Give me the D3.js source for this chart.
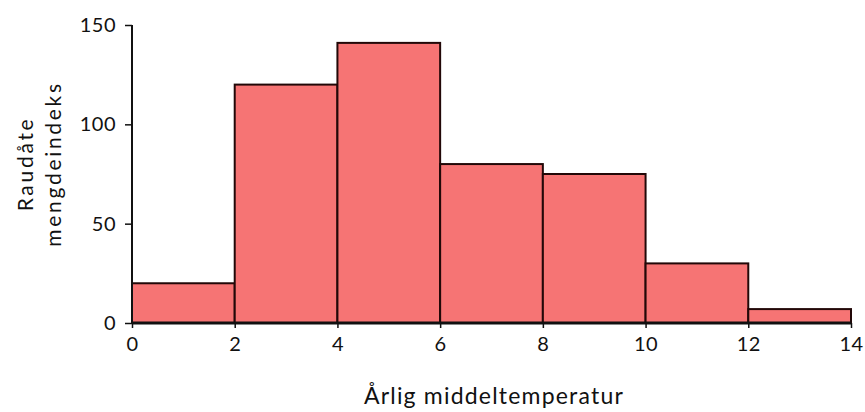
<!DOCTYPE html>
<html>
<head>
<meta charset="utf-8">
<script src="https://cdn.jsdelivr.net/npm/d3@7"></script>
<style>
  body { margin: 0; background: #fff; }
  text { font-family: Lato, "Open Sans", sans-serif; fill: #111; }
</style>
</head>
<body>
<svg id="chart" width="865" height="412"></svg>
<script>
const binStarts = [0, 2, 4, 6, 8, 10, 12];
const binWidth = 2;
const counts = [20, 120, 141, 80, 75, 30, 7];
const xTicks = [0, 2, 4, 6, 8, 10, 12, 14];
const yTicks = [0, 50, 100, 150];

const svg = d3.select('#chart');
const margin = { top: 25, right: 14, bottom: 89, left: 132 };
const width = +svg.attr('width') - margin.left - margin.right;
const height = +svg.attr('height') - margin.top - margin.bottom;

const g = svg.append('g').attr('transform', `translate(${margin.left},${margin.top})`);

const x = d3.scaleLinear().domain([0, 14]).range([0, width]);
const y = d3.scaleLinear().domain([0, 150]).range([height, 0]);

g.append('g').selectAll('rect')
  .data(binStarts)
  .join('rect')
  .attr('x', d => x(d))
  .attr('y', (d, i) => y(counts[i]))
  .attr('width', d => x(d + binWidth) - x(d))
  .attr('height', (d, i) => y(0) - y(counts[i]))
  .attr('fill', '#f67474')
  .attr('stroke', '#220808')
  .attr('stroke-width', 2);

const xAxis = g.append('g')
  .attr('transform', `translate(0,${height})`)
  .call(d3.axisBottom(x).tickValues(xTicks).tickSize(5).tickPadding(9).tickFormat(d3.format('d')));
const yAxis = g.append('g')
  .call(d3.axisLeft(y).tickValues(yTicks).tickSize(7).tickPadding(9).tickFormat(d3.format('d')));

[xAxis, yAxis].forEach(a => {
  a.select('.domain').attr('stroke', '#111').attr('stroke-width', 2);
  a.selectAll('.tick line').attr('stroke', '#111').attr('stroke-width', 1.5);
  a.selectAll('.tick text').style('font-size', '20px').style('letter-spacing', '0.5px').attr('fill', '#111');
});
xAxis.select('.domain').attr('d', `M0,0H${width}`).attr('stroke-width', 3);
yAxis.select('.domain').attr('d', `M0,0V${height}`);

svg.append('text')
  .attr('x', 494)
  .attr('y', 404)
  .attr('text-anchor', 'middle')
  .style('font-size', '23px')
  .style('letter-spacing', '1.2px')
  .text('Årlig middeltemperatur');

const yl = svg.append('text')
  .attr('transform', 'translate(0,164) rotate(-90)')
  .attr('text-anchor', 'middle')
  .style('font-size', '21px')
  .style('letter-spacing', '2.7px');
yl.append('tspan').attr('x', 0).attr('y', 33).text('Raudåte');
yl.append('tspan').attr('x', 0).attr('y', 61).text('mengdeindeks');
</script>
</body>
</html>
